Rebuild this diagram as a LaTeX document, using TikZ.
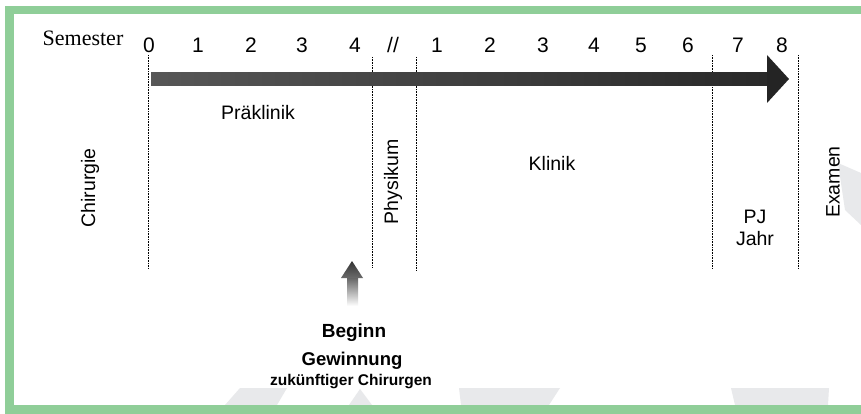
\documentclass[tikz,border=0pt]{standalone}
\usepackage{fontspec}
\setmainfont{Liberation Sans}
\newfontfamily\serifface{Liberation Serif}
\definecolor{framegreen}{RGB}{143,206,152}
\definecolor{shadegray}{RGB}{232,233,235}
\tikzset{
  sep/.style={line width=0.8pt, dash pattern=on 0.8pt off 0.8pt},
  num/.style={anchor=base, inner sep=0pt, font=\fontsize{21}{24}\selectfont},
  lab/.style={inner sep=0pt, font=\fontsize{19.5}{22}\selectfont},
  vlab/.style={lab, rotate=90},
}
\begin{document}
\begin{tikzpicture}[x=1pt,y=-1pt]
\useasboundingbox (0,0) rectangle (861,414);
\fill[white] (0,0) rectangle (861,414);
% faint background shapes
\fill[shadegray] (240,388) -- (287,388) -- (277,405) -- (225,405) -- cycle;
\fill[shadegray] (360,389) -- (372,405) -- (349,405) -- cycle;
\fill[shadegray] (459,388) -- (560,388) -- (549,405) -- (461,405) -- cycle;
\fill[shadegray] (731,388) -- (829,388) -- (828,405) -- (735,405) -- cycle;
\fill[shadegray] (838,163) -- (861,173) -- (861,225) -- (845,210) -- cycle;
% green frame
\fill[framegreen] (5,6) rectangle (861,14);
\fill[framegreen] (5,6) rectangle (14,414);
\fill[framegreen] (5,405) rectangle (861,414);
% separators
\coordinate (s0t) at (148,55);  \coordinate (s0b) at (148,268);
\coordinate (s1t) at (372,57);  \coordinate (s1b) at (372,268);
\coordinate (s2t) at (416,57);  \coordinate (s2b) at (416,270);
\coordinate (s3t) at (712,55);  \coordinate (s3b) at (712,268);
\coordinate (s4t) at (798,55);  \coordinate (s4b) at (798,268);
\draw[sep] (s0t) -- (s0b);
\draw[sep] (s1t) -- (s1b);
\draw[sep] (s2t) -- (s2b);
\draw[sep] (s3t) -- (s3b);
\draw[sep] (s4t) -- (s4b);
% main arrow
\shade[left color=black!66, right color=black!84] (151,73) rectangle (768,86);
\fill[black!86] (767,55) -- (789,79) -- (767,103) -- cycle;
% header
\node[anchor=base, inner sep=0pt, font=\serifface\fontsize{22}{24}\selectfont] (sem) at (83,46) {Semester};
\node[num] (n0) at (149,53) {0};
\node[num] (n1) at (198,53) {1};
\node[num] (n2) at (251,53) {2};
\node[num] (n3) at (302,53) {3};
\node[num] (n4) at (355,53) {4};
\node[num] (nb) at (393,53) {//};
\node[num] (m1) at (437,53) {1};
\node[num] (m2) at (490,53) {2};
\node[num] (m3) at (543,53) {3};
\node[num] (m4) at (594,53) {4};
\node[num] (m5) at (641,53) {5};
\node[num] (m6) at (688,53) {6};
\node[num] (m7) at (738,53) {7};
\node[num] (m8) at (782,53) {8};
% labels
\node[lab, anchor=base] (pre) at (258,120) {Präklinik};
\node[lab, anchor=base] (kli) at (552,171) {Klinik};
\node[vlab] (chi) at (90,188) {Chirurgie};
\node[vlab] (phy) at (393,182) {Physikum};
\node[vlab] (exa) at (833,182) {Examen};
\node[lab, anchor=base] (pj) at (755,223) {PJ};
\node[lab, anchor=base] (jahr) at (755,245) {Jahr};
% up arrow
\shade[top color=black!62, bottom color=white] (347,277) rectangle (358,306);
\shade[top color=black!80, bottom color=black!58] (341,278) -- (352,261) -- (363,278) -- cycle;
% bottom text
\node[anchor=base, inner sep=0pt, font=\bfseries\fontsize{19}{22}\selectfont] (beg) at (354,337) {Beginn};
\node[anchor=base, inner sep=0pt, font=\bfseries\fontsize{18.5}{22}\selectfont] (gew) at (352,365) {Gewinnung};
\node[anchor=base, inner sep=0pt, font=\bfseries\fontsize{15.5}{18}\selectfont] (zuk) at (351,385) {zukünftiger Chirurgen};
\end{tikzpicture}
\end{document}
